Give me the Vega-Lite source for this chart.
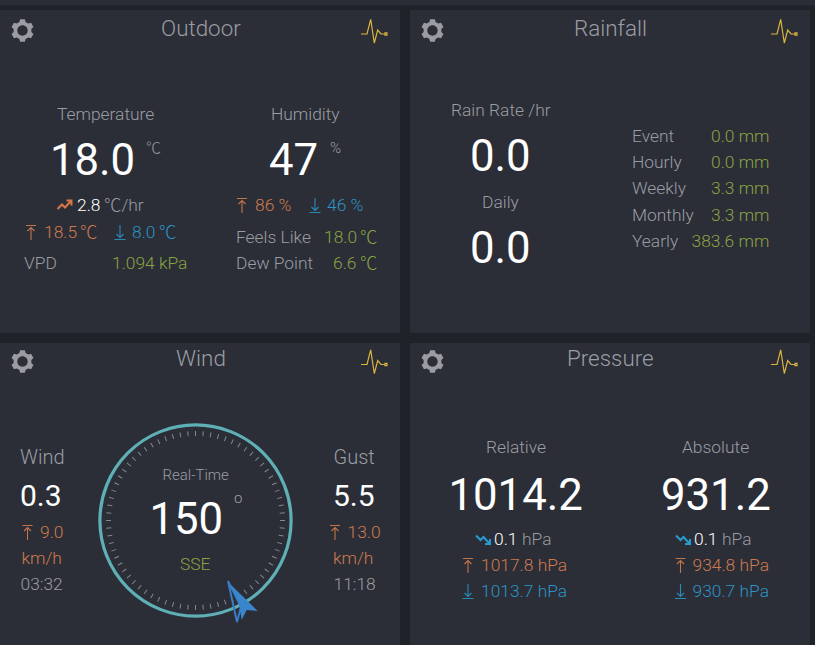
{
  "$schema": "https://vega.github.io/schema/vega-lite/v6.json",
  "autosize": {"type": "fit", "contains": "padding"},
  "width": 815,
  "height": 645,
  "padding": 0,
  "background": "#1f2228",
  "config": {"view": {"stroke": null}, "text": {"font": "Roboto, Noto Sans CJK SC"}},
  "datasets": {
    "panels": [
      {"name": "Strip", "x": 0, "x2": 815, "y": 0, "y2": 5.5},
      {"name": "Outdoor", "x": 0, "x2": 400, "y": 10, "y2": 333},
      {"name": "Rainfall", "x": 410, "x2": 810, "y": 10, "y2": 333},
      {"name": "Wind", "x": 0, "x2": 400, "y": 343, "y2": 645},
      {"name": "Pressure", "x": 410, "x2": 810, "y": 343, "y2": 645}
    ],
    "ticks": [
      {"bearing": 0, "x": 195.5, "y": 520.5}, {"bearing": 5, "x": 195.5, "y": 520.5}, {"bearing": 10, "x": 195.5, "y": 520.5}, {"bearing": 15, "x": 195.5, "y": 520.5},
      {"bearing": 20, "x": 195.5, "y": 520.5}, {"bearing": 25, "x": 195.5, "y": 520.5}, {"bearing": 30, "x": 195.5, "y": 520.5}, {"bearing": 35, "x": 195.5, "y": 520.5},
      {"bearing": 40, "x": 195.5, "y": 520.5}, {"bearing": 45, "x": 195.5, "y": 520.5}, {"bearing": 50, "x": 195.5, "y": 520.5}, {"bearing": 55, "x": 195.5, "y": 520.5},
      {"bearing": 60, "x": 195.5, "y": 520.5}, {"bearing": 65, "x": 195.5, "y": 520.5}, {"bearing": 70, "x": 195.5, "y": 520.5}, {"bearing": 75, "x": 195.5, "y": 520.5},
      {"bearing": 80, "x": 195.5, "y": 520.5}, {"bearing": 85, "x": 195.5, "y": 520.5}, {"bearing": 90, "x": 195.5, "y": 520.5}, {"bearing": 95, "x": 195.5, "y": 520.5},
      {"bearing": 100, "x": 195.5, "y": 520.5}, {"bearing": 105, "x": 195.5, "y": 520.5}, {"bearing": 110, "x": 195.5, "y": 520.5}, {"bearing": 115, "x": 195.5, "y": 520.5},
      {"bearing": 120, "x": 195.5, "y": 520.5}, {"bearing": 125, "x": 195.5, "y": 520.5}, {"bearing": 130, "x": 195.5, "y": 520.5}, {"bearing": 135, "x": 195.5, "y": 520.5},
      {"bearing": 140, "x": 195.5, "y": 520.5}, {"bearing": 145, "x": 195.5, "y": 520.5}, {"bearing": 150, "x": 195.5, "y": 520.5}, {"bearing": 155, "x": 195.5, "y": 520.5},
      {"bearing": 160, "x": 195.5, "y": 520.5}, {"bearing": 165, "x": 195.5, "y": 520.5}, {"bearing": 170, "x": 195.5, "y": 520.5}, {"bearing": 175, "x": 195.5, "y": 520.5},
      {"bearing": 180, "x": 195.5, "y": 520.5}, {"bearing": 185, "x": 195.5, "y": 520.5}, {"bearing": 190, "x": 195.5, "y": 520.5}, {"bearing": 195, "x": 195.5, "y": 520.5},
      {"bearing": 200, "x": 195.5, "y": 520.5}, {"bearing": 205, "x": 195.5, "y": 520.5}, {"bearing": 210, "x": 195.5, "y": 520.5}, {"bearing": 215, "x": 195.5, "y": 520.5},
      {"bearing": 220, "x": 195.5, "y": 520.5}, {"bearing": 225, "x": 195.5, "y": 520.5}, {"bearing": 230, "x": 195.5, "y": 520.5}, {"bearing": 235, "x": 195.5, "y": 520.5},
      {"bearing": 240, "x": 195.5, "y": 520.5}, {"bearing": 245, "x": 195.5, "y": 520.5}, {"bearing": 250, "x": 195.5, "y": 520.5}, {"bearing": 255, "x": 195.5, "y": 520.5},
      {"bearing": 260, "x": 195.5, "y": 520.5}, {"bearing": 265, "x": 195.5, "y": 520.5}, {"bearing": 270, "x": 195.5, "y": 520.5}, {"bearing": 275, "x": 195.5, "y": 520.5},
      {"bearing": 280, "x": 195.5, "y": 520.5}, {"bearing": 285, "x": 195.5, "y": 520.5}, {"bearing": 290, "x": 195.5, "y": 520.5}, {"bearing": 295, "x": 195.5, "y": 520.5},
      {"bearing": 300, "x": 195.5, "y": 520.5}, {"bearing": 305, "x": 195.5, "y": 520.5}, {"bearing": 310, "x": 195.5, "y": 520.5}, {"bearing": 315, "x": 195.5, "y": 520.5},
      {"bearing": 320, "x": 195.5, "y": 520.5}, {"bearing": 325, "x": 195.5, "y": 520.5}, {"bearing": 330, "x": 195.5, "y": 520.5}, {"bearing": 335, "x": 195.5, "y": 520.5},
      {"bearing": 340, "x": 195.5, "y": 520.5}, {"bearing": 345, "x": 195.5, "y": 520.5}, {"bearing": 350, "x": 195.5, "y": 520.5}, {"bearing": 355, "x": 195.5, "y": 520.5}
    ],
    "icons": [
      {"icon": "ring", "x": 195.5, "y": 520.5},
      {"icon": "gear", "x": 22.5, "y": 30.5}, {"icon": "gear", "x": 432.5, "y": 30.5}, {"icon": "gear", "x": 22.5, "y": 361.5}, {"icon": "gear", "x": 432.5, "y": 361.5},
      {"icon": "pulse", "x": 373, "y": 32}, {"icon": "pulse", "x": 783, "y": 32}, {"icon": "pulse", "x": 373, "y": 362.5}, {"icon": "pulse", "x": 783, "y": 362.5},
      {"icon": "max", "x": 31, "y": 232.5}, {"icon": "min", "x": 120, "y": 232.5},
      {"icon": "max", "x": 242, "y": 205.5}, {"icon": "min", "x": 315, "y": 205.5},
      {"icon": "max", "x": 27.5, "y": 532.5}, {"icon": "max", "x": 335, "y": 532.5},
      {"icon": "max", "x": 468, "y": 565.5}, {"icon": "min", "x": 468, "y": 591.5},
      {"icon": "max", "x": 680.5, "y": 565.5}, {"icon": "min", "x": 680.5, "y": 591.5},
      {"icon": "up", "x": 64.5, "y": 205},
      {"icon": "down", "x": 483, "y": 539.5}, {"icon": "down", "x": 683, "y": 539.5},
      {"icon": "needle", "x": 240, "y": 605}
    ],
    "texts": [
      {"kind": "title", "tone": "grey", "x": 161, "y": 36, "text": "Outdoor"},
      {"kind": "title", "tone": "grey", "x": 574, "y": 36, "text": "Rainfall"},
      {"kind": "title", "tone": "grey", "x": 176, "y": 366, "text": "Wind"},
      {"kind": "title", "tone": "grey", "x": 567, "y": 366, "text": "Pressure"},

      {"kind": "big", "tone": "white", "x": 50, "y": 175, "text": "18.0"},
      {"kind": "big", "tone": "white", "x": 269, "y": 175, "text": "47"},
      {"kind": "big", "tone": "white", "x": 470, "y": 170.5, "text": "0.0"},
      {"kind": "big", "tone": "white", "x": 470, "y": 262.5, "text": "0.0"},
      {"kind": "big", "tone": "white", "x": 149.5, "y": 534, "text": "150"},
      {"kind": "big", "tone": "white", "x": 448.5, "y": 510, "text": "1014.2"},
      {"kind": "big", "tone": "white", "x": 661, "y": 510, "text": "931.2"},

      {"kind": "unit", "tone": "grey", "x": 146, "y": 153, "text": "℃"},
      {"kind": "unit", "tone": "grey", "x": 330, "y": 153, "text": "%"},
      {"kind": "unit", "tone": "grey", "x": 234, "y": 503, "text": "o"},

      {"kind": "stat", "tone": "grey", "x": 57, "y": 120, "text": "Temperature"},
      {"kind": "stat", "tone": "grey", "x": 271, "y": 120, "text": "Humidity"},
      {"kind": "stat", "tone": "white", "x": 77, "y": 211, "text": "2.8"},
      {"kind": "stat", "tone": "grey", "x": 104, "y": 211, "text": "℃/hr"},
      {"kind": "stat", "tone": "orange", "x": 44, "y": 238, "text": "18.5"},
      {"kind": "stat", "tone": "orange", "x": 80, "y": 238, "text": "℃"},
      {"kind": "stat", "tone": "blue", "x": 132, "y": 238, "text": "8.0"},
      {"kind": "stat", "tone": "blue", "x": 159, "y": 238, "text": "℃"},
      {"kind": "stat", "tone": "grey", "x": 24, "y": 269, "text": "VPD"},
      {"kind": "stat", "tone": "green", "x": 112, "y": 269, "text": "1.094 kPa"},
      {"kind": "stat", "tone": "orange", "x": 255, "y": 211, "text": "86 %"},
      {"kind": "stat", "tone": "blue", "x": 327, "y": 211, "text": "46 %"},
      {"kind": "stat", "tone": "grey", "x": 236, "y": 243, "text": "Feels Like"},
      {"kind": "stat", "tone": "green", "x": 324, "y": 243, "text": "18.0"},
      {"kind": "stat", "tone": "green", "x": 360, "y": 243, "text": "℃"},
      {"kind": "stat", "tone": "grey", "x": 236, "y": 269, "text": "Dew Point"},
      {"kind": "stat", "tone": "green", "x": 333, "y": 269, "text": "6.6"},
      {"kind": "stat", "tone": "green", "x": 360, "y": 269, "text": "℃"},

      {"kind": "stat", "tone": "grey", "x": 451, "y": 116, "text": "Rain Rate /hr"},
      {"kind": "stat", "tone": "grey", "x": 482, "y": 208, "text": "Daily"},
      {"kind": "stat", "tone": "grey", "x": 632, "y": 142, "text": "Event"},
      {"kind": "stat", "tone": "grey", "x": 632, "y": 168, "text": "Hourly"},
      {"kind": "stat", "tone": "grey", "x": 632, "y": 194, "text": "Weekly"},
      {"kind": "stat", "tone": "grey", "x": 632, "y": 221, "text": "Monthly"},
      {"kind": "stat", "tone": "grey", "x": 632, "y": 247, "text": "Yearly"},
      {"kind": "stat", "tone": "green", "x": 711, "y": 142, "text": "0.0 mm"},
      {"kind": "stat", "tone": "green", "x": 711, "y": 168, "text": "0.0 mm"},
      {"kind": "stat", "tone": "green", "x": 711, "y": 194, "text": "3.3 mm"},
      {"kind": "stat", "tone": "green", "x": 711, "y": 221, "text": "3.3 mm"},
      {"kind": "stat", "tone": "green", "x": 691.5, "y": 247, "text": "383.6 mm"},

      {"kind": "head", "tone": "grey", "x": 20, "y": 464, "text": "Wind"},
      {"kind": "head", "tone": "grey", "x": 333.5, "y": 464, "text": "Gust"},
      {"kind": "mid", "tone": "white", "x": 20, "y": 506, "text": "0.3"},
      {"kind": "mid", "tone": "white", "x": 333, "y": 506, "text": "5.5"},
      {"kind": "stat", "tone": "orange", "x": 40, "y": 538, "text": "9.0"},
      {"kind": "stat", "tone": "orange", "x": 347.5, "y": 538, "text": "13.0"},
      {"kind": "stat", "tone": "orange", "x": 21.5, "y": 564, "text": "km/h"},
      {"kind": "stat", "tone": "orange", "x": 333, "y": 564, "text": "km/h"},
      {"kind": "stat", "tone": "grey", "x": 20.5, "y": 590, "text": "03:32"},
      {"kind": "stat", "tone": "grey", "x": 333.5, "y": 590, "text": "11:18"},
      {"kind": "small", "tone": "grey", "x": 162.5, "y": 480, "text": "Real-Time"},
      {"kind": "stat", "tone": "green", "x": 180, "y": 570, "text": "SSE"},

      {"kind": "stat", "tone": "grey", "x": 486, "y": 453, "text": "Relative"},
      {"kind": "stat", "tone": "grey", "x": 682, "y": 453, "text": "Absolute"},
      {"kind": "stat", "tone": "white", "x": 494, "y": 545, "text": "0.1"},
      {"kind": "stat", "tone": "grey", "x": 522, "y": 545, "text": "hPa"},
      {"kind": "stat", "tone": "white", "x": 694, "y": 545, "text": "0.1"},
      {"kind": "stat", "tone": "grey", "x": 722, "y": 545, "text": "hPa"},
      {"kind": "stat", "tone": "orange", "x": 481, "y": 571, "text": "1017.8 hPa"},
      {"kind": "stat", "tone": "blue", "x": 481, "y": 597, "text": "1013.7 hPa"},
      {"kind": "stat", "tone": "orange", "x": 692.5, "y": 571, "text": "934.8 hPa"},
      {"kind": "stat", "tone": "blue", "x": 692.5, "y": 597, "text": "930.7 hPa"}
    ]
  },
  "encoding": {
    "x": {"field": "x", "type": "quantitative", "axis": null, "scale": {"domain": [0, 815], "nice": false, "zero": false}},
    "y": {"field": "y", "type": "quantitative", "axis": null, "scale": {"domain": [0, 645], "nice": false, "zero": false, "reverse": true}}
  },
  "layer": [
    {
      "data": {"name": "panels"},
      "transform": [{"filter": "datum.name !== 'Strip'"}],
      "mark": {"type": "rect", "fill": "#2b2e37"},
      "encoding": {"x2": {"field": "x2"}, "y2": {"field": "y2"}}
    },
    {
      "data": {"name": "panels"},
      "transform": [{"filter": "datum.name === 'Strip'"}],
      "mark": {"type": "rect", "fill": "#2a2d35"},
      "encoding": {"x2": {"field": "x2"}, "y2": {"field": "y2"}}
    },
    {
      "data": {"name": "ticks"},
      "mark": {"type": "point", "filled": false, "size": 4, "opacity": 1, "stroke": "#85888d", "strokeWidth": 1, "shape": "M0,-89.5L0,-84.5"},
      "encoding": {
        "angle": {"field": "bearing", "type": "quantitative", "scale": {"domain": [0, 360], "range": [0, 360]}}
      }
    },
    {
      "data": {"name": "icons"},
      "layer": [
        {
          "transform": [{"filter": "datum.icon === 'ring'"}],
          "mark": {"type": "point", "shape": "circle", "filled": false, "size": 36557, "opacity": 1, "stroke": "#5fb0b6", "strokeWidth": 3.2}
        },
        {
          "transform": [{"filter": "datum.icon === 'gear'"}],
          "mark": {"type": "point", "filled": true, "size": 4, "opacity": 1, "fill": "#9a9ca2",
            "shape": "M-3.08,-8.46L-2.39,-11.25L2.39,-11.25L3.08,-8.46L5.79,-6.89L8.55,-7.7L10.94,-3.55L8.86,-1.56L8.86,1.56L10.94,3.55L8.55,7.7L5.79,6.89L3.08,8.46L2.39,11.25L-2.39,11.25L-3.08,8.46L-5.79,6.89L-8.55,7.7L-10.94,3.55L-8.86,1.56L-8.86,-1.56L-10.94,-3.55L-8.55,-7.7L-5.79,-6.89ZM0,-5.2A5.2,5.2 0 1 0 0,5.2A5.2,5.2 0 1 0 0,-5.2Z"}
        },
        {
          "transform": [{"filter": "datum.icon === 'pulse'"}],
          "mark": {"type": "point", "filled": false, "size": 4, "opacity": 1, "stroke": "#dcb53e", "strokeWidth": 1.2,
            "shape": "M-12,2L-6,2L-2.3,-12.7L1.3,11L4.7,-2L8,2L12,2M12,0.9L14,0.9L14,3.1L12,3.1Z"}
        },
        {
          "transform": [{"filter": "datum.icon === 'max'"}],
          "mark": {"type": "point", "filled": false, "size": 4, "opacity": 1, "stroke": "#c4744a", "strokeWidth": 1.1,
            "shape": "M-5,-7L5,-7M0,-5L0,7.5M-3.5,-1.5L0,-5L3.5,-1.5"}
        },
        {
          "transform": [{"filter": "datum.icon === 'min'"}],
          "mark": {"type": "point", "filled": false, "size": 4, "opacity": 1, "stroke": "#2a8bb8", "strokeWidth": 1.1,
            "shape": "M-5.5,7L5.5,7M0,-7.5L0,5M-3.5,1.5L0,5L3.5,1.5"}
        },
        {
          "transform": [{"filter": "datum.icon === 'up'"}],
          "mark": {"type": "point", "filled": false, "size": 4, "opacity": 1, "stroke": "#d9764a", "strokeWidth": 2,
            "shape": "M-7,4L-2.5,-0.5L0.5,2.5L6,-3.5M2,-4.5L7,-4.5L7,0.5"}
        },
        {
          "transform": [{"filter": "datum.icon === 'down'"}],
          "mark": {"type": "point", "filled": false, "size": 4, "opacity": 1, "stroke": "#2a9bd0", "strokeWidth": 2,
            "shape": "M-7,-4L-2.5,0.5L0.5,-2.5L6,3.5M2,4.5L7,4.5L7,-0.5"}
        },
        {
          "transform": [{"filter": "datum.icon === 'needle'"}],
          "mark": {"type": "point", "filled": false, "size": 4, "opacity": 1, "stroke": "#3a7cc4", "strokeWidth": 2,
            "shape": "M-12,-24L-3,17L1,2Z"}
        },
        {
          "transform": [{"filter": "datum.icon === 'needle'"}],
          "mark": {"type": "point", "filled": true, "size": 4, "opacity": 1, "fill": "#3a86cc",
            "shape": "M-10,-21L17.7,6L6.7,5L1.7,15L-1,-2Z"}
        }
      ]
    },
    {
      "data": {"name": "texts"},
      "encoding": {
        "text": {"field": "text", "type": "nominal"},
        "color": {
          "field": "tone",
          "type": "nominal",
          "legend": null,
          "scale": {"domain": ["white", "grey", "orange", "blue", "green"], "range": ["#ffffff", "#9a9da3", "#cf7a4e", "#2c94c4", "#8aa443"]}
        }
      },
      "layer": [
        {"transform": [{"filter": "datum.kind === 'title'"}], "mark": {"type": "text", "align": "left", "baseline": "alphabetic", "fontSize": 22.4, "fontWeight": 300}},
        {"transform": [{"filter": "datum.kind === 'big'"}], "mark": {"type": "text", "align": "left", "baseline": "alphabetic", "fontSize": 43.7, "fontWeight": 400}},
        {"transform": [{"filter": "datum.kind === 'mid'"}], "mark": {"type": "text", "align": "left", "baseline": "alphabetic", "fontSize": 30, "fontWeight": 400}},
        {"transform": [{"filter": "datum.kind === 'head'"}], "mark": {"type": "text", "align": "left", "baseline": "alphabetic", "fontSize": 20, "fontWeight": 300}},
        {"transform": [{"filter": "datum.kind === 'stat'"}], "mark": {"type": "text", "align": "left", "baseline": "alphabetic", "fontSize": 17.4, "fontWeight": 300}},
        {"transform": [{"filter": "datum.kind === 'small'"}], "mark": {"type": "text", "align": "left", "baseline": "alphabetic", "fontSize": 15, "fontWeight": 300}},
        {"transform": [{"filter": "datum.kind === 'unit'"}], "mark": {"type": "text", "align": "left", "baseline": "alphabetic", "fontSize": 15, "fontWeight": 300}}
      ]
    }
  ]
}
